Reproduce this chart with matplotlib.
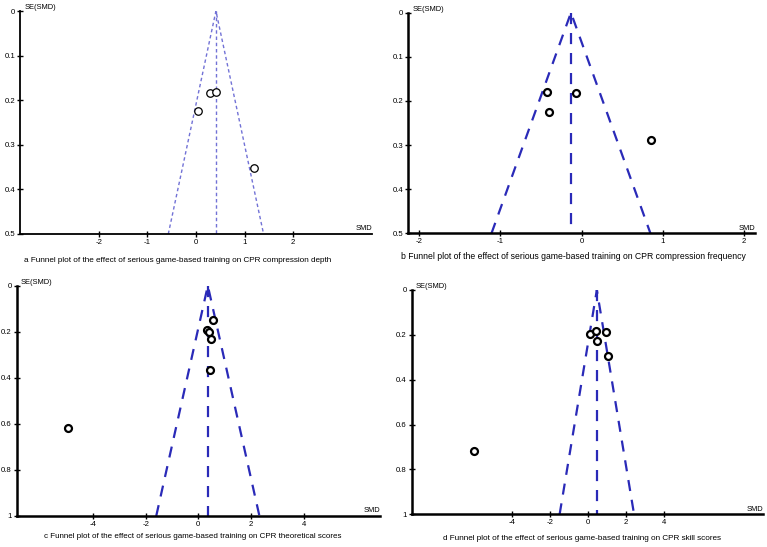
import matplotlib
matplotlib.use("Agg")
import matplotlib.pyplot as plt
import numpy as np

plt.rcParams['font.family'] = ['Liberation Sans', 'DejaVu Sans']
plt.rcParams['axes.unicode_minus'] = False

W, H = 767, 547

# Panel a: compression depth
a_smd = [0.29, 0.41, 0.05, 1.19]
a_se = [0.183, 0.182, 0.225, 0.352]
a_pooled = 0.41
# Panel b: compression frequency
b_smd = [-0.42, -0.40, -0.07, 0.86]
b_se = [0.180, 0.225, 0.183, 0.289]
b_pooled = -0.13
# Panel c: theoretical scores
c_smd = [0.57, 0.32, 0.41, 0.48, 0.455, -4.94]
c_se = [0.148, 0.194, 0.200, 0.231, 0.366, 0.617]
c_pooled = 0.36
# Panel d: skill scores
d_smd = [0.14, 0.46, 0.98, 0.47, 1.09, -6.0]
d_se = [0.196, 0.181, 0.187, 0.229, 0.296, 0.719]
d_pooled = 0.48

a_xticks = [-2, -1, 0, 1, 2]
b_xticks = [-2, -1, 0, 1, 2]
c_xticks = [-4, -2, 0, 2, 4]
d_xticks = [-4, -2, 0, 2, 4]
a_yticks = [0, 0.1, 0.2, 0.3, 0.4, 0.5]
b_yticks = [0, 0.1, 0.2, 0.3, 0.4, 0.5]
c_yticks = [0, 0.2, 0.4, 0.6, 0.8, 1]
d_yticks = [0, 0.2, 0.4, 0.6, 0.8, 1]

captions = [
    "a Funnel plot of the effect of serious game-based training on CPR compression depth",
    "b Funnel plot of the effect of serious game-based training on CPR compression frequency",
    "c Funnel plot of the effect of serious game-based training on CPR theoretical scores",
    "d Funnel plot of the effect of serious game-based training on CPR skill scores",
]

fig = plt.figure(figsize=(W / 100, H / 100), dpi=100)


def make_ax(l, r, t, b):
    return fig.add_axes([l / W, 1 - b / H, (r - l) / W, (b - t) / H])


panels = [
    dict(box=(20, 372, 11, 234), xlim=(-3.62, 3.62), ymax=0.5, smd=a_smd, se=a_se, pooled=a_pooled,
         xt=a_xticks, yt=a_yticks, thin=True),
    dict(box=(408, 755, 12.7, 233.3), xlim=(-2.14, 2.14), ymax=0.5, smd=b_smd, se=b_se, pooled=b_pooled,
         xt=b_xticks, yt=b_yticks, thin=False),
    dict(box=(16.7, 380, 285.7, 516), xlim=(-6.9, 6.9), ymax=1.0, smd=c_smd, se=c_se, pooled=c_pooled,
         xt=c_xticks, yt=c_yticks, thin=False),
    dict(box=(411.7, 763, 290, 514.3), xlim=(-9.27, 9.23), ymax=1.0, smd=d_smd, se=d_se, pooled=d_pooled,
         xt=d_xticks, yt=d_yticks, thin=False),
]

for p in panels:
    ax = make_ax(*p['box'])
    thin = p['thin']
    lc = '#7272d6' if thin else '#2a2ab8'
    lw = 1.0 if thin else 1.6
    ls = (0, (2.5, 2)) if thin else (0, (5, 4))
    c = p['pooled']
    ym = p['ymax']
    ax.plot([c - 1.96 * ym, c, c + 1.96 * ym], [ym, 0, ym], color=lc, lw=lw, ls=ls, zorder=2)
    ax.plot([c, c], [0, ym], color=lc, lw=lw, ls=ls, zorder=2)
    ax.plot(p['smd'], p['se'], 'o', mfc='white', mec='black',
            ms=5.4 if thin else 5.0, mew=0.9 if thin else 1.6, zorder=3)
    ax.set_xlim(*p['xlim'])
    ax.set_ylim(ym, 0)
    ax.set_xticks(p['xt'])
    ax.set_yticks(p['yt'])
    ax.set_yticklabels([('%g' % v) for v in p['yt']])
    for s in ['top', 'right']:
        ax.spines[s].set_visible(False)
    for s in ['left', 'bottom']:
        ax.spines[s].set_linewidth(1.3 if thin else 1.8)
    ax.tick_params(direction='inout', length=4, width=1.0, labelsize=5.6, pad=1.5)
    ax.patch.set_alpha(0)
    ax.text(0.012, 1.0, 'SE(SMD)', transform=ax.transAxes, fontsize=5.4, ha='left', va='bottom')
    ax.text(1.0, 0.008, 'SMD', transform=ax.transAxes, fontsize=5.4, ha='right', va='bottom')

# captions
fig.text(24 / W, 1 - 260.7 / H, captions[0], fontsize=5.9, ha='left', va='center')
fig.text(573 / W, 1 - 256.7 / H, captions[1], fontsize=6.2, ha='center', va='center')
fig.text(193 / W, 1 - 536.7 / H, captions[2], fontsize=5.75, ha='center', va='center')
fig.text(582 / W, 1 - 539 / H, captions[3], fontsize=5.9, ha='center', va='center')

fig.savefig('out.png', dpi=100)
